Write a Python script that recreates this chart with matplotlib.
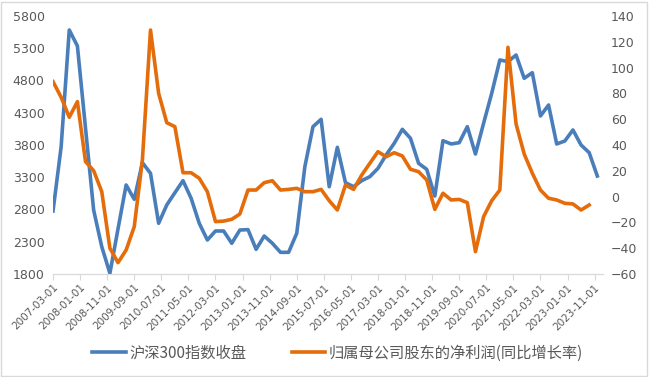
import matplotlib.pyplot as plt
import matplotlib.patches as mpatches
import numpy as np
import pandas as pd

plt.rcParams['font.family'] = ['Noto Sans CJK SC', 'DejaVu Sans']

# quarterly data, 2007-03 .. 2023-12
csi300 = [2777, 3774, 5583, 5335, 4060, 2792, 2223, 1811, 2500, 3180,
          2958, 3526, 3361, 2586, 2870, 3060, 3247, 2974, 2586, 2327,
          2467, 2467, 2276, 2482, 2488, 2183, 2389, 2276, 2136, 2136,
          2431, 3464, 4084, 4198, 3153, 3764, 3216, 3153, 3247, 3309,
          3438, 3645, 3826, 4043, 3904, 3516, 3423, 3009, 3867, 3816,
          3836, 4084, 3660, 4136, 4601, 5118, 5092, 5195, 4834, 4921,
          4250, 4420, 3816, 3862, 4033, 3800, 3681, 3319]

profit_yoy = [89.1, 77.0, 61.5, 73.6, 27.1, 20.1, 3.8, -40.0, -51.2, -41.4,
              -23.3, 28.4, 129.1, 80.1, 57.3, 54.2, 18.5, 18.5, 14.2, 3.8,
              -19.4, -19.0, -17.6, -13.5, 5.1, 5.1, 10.8, 12.3, 5.1, 5.6,
              6.4, 3.8, 3.8, 5.6, -3.2, -10.4, 9.0, 5.6, 16.7, 25.8,
              34.8, 30.9, 34.0, 31.5, 21.2, 19.3, 12.9, -9.9, 2.6, -2.6,
              -2.2, -4.7, -42.7, -15.6, -3.2, 5.1, 115.7, 56.3, 33.0, 18.1,
              5.1, -1.3, -2.6, -5.2, -5.7, -10.4, -6.5]

start = pd.Timestamp('2007-03-01')
dates = pd.date_range(start, periods=len(csi300), freq='3MS')
tick_dates = pd.date_range(start, '2023-11-01', freq='10MS')


def month_idx(d):
    return (d.year - start.year) * 12 + (d.month - start.month)


x_blue = np.array([month_idx(d) for d in dates])
x_orange = x_blue[:len(profit_yoy)]
ticks = [month_idx(d) for d in tick_dates]

blue = '#4a7ebb'
orange = '#e46c0a'
gray = '#595959'

fig = plt.figure(figsize=(6.49, 3.77), dpi=100)
ax = fig.add_axes([0.0817, 0.2732, 0.847, 0.6844])
ax2 = ax.twinx()

ax.plot(x_blue, csi300, color=blue, lw=2.6, solid_joinstyle='round', zorder=3)
ax2.plot(x_orange, profit_yoy, color=orange, lw=2.6, solid_joinstyle='round', zorder=3)

ax.set_ylim(1800, 5800)
ax.set_yticks(np.arange(1800, 5801, 500))
ax2.set_ylim(-60, 140)
ax2.set_yticks(np.arange(-60, 141, 20))
ax.set_xlim(0, 203)
ax.set_xticks(ticks)
ax.set_xticklabels([d.strftime('%Y-%m-%d') for d in tick_dates],
                   rotation=45, ha='right', rotation_mode='anchor',
                   fontsize=7.5, color=gray, family='DejaVu Sans')

for a in (ax, ax2):
    for s in ['top', 'left', 'right']:
        a.spines[s].set_visible(False)
    a.spines['bottom'].set_color('#d9d9d9')
    a.tick_params(axis='y', length=0, labelsize=9, labelcolor=gray, pad=6)
ax.tick_params(axis='x', length=4, color='#d9d9d9', pad=2)
for lab in ax.get_yticklabels() + ax2.get_yticklabels():
    lab.set_family('DejaVu Sans')

ax.set_zorder(ax2.get_zorder() + 1)
ax.patch.set_visible(False)
# keep blue above orange? In reference orange drawn over blue
ax.set_zorder(0)
ax2.set_zorder(1)

handles = [plt.Line2D([], [], color=blue, lw=2.6),
           plt.Line2D([], [], color=orange, lw=2.6)]
fig.legend(handles, ['沪深300指数收盘', '归属母公司股东的净利润(同比增长率)'],
           loc='center', bbox_to_anchor=(0.52, 0.063), ncol=2, frameon=False,
           fontsize=11, handlelength=2.2, handletextpad=0.2, columnspacing=3.0,
           labelcolor=gray)

fig.patches.append(mpatches.Rectangle((0.002, 0.003), 0.995, 0.993,
                                      transform=fig.transFigure, fill=False,
                                      edgecolor='#d9d9d9', lw=1))

plt.savefig('out.png', dpi=100)
